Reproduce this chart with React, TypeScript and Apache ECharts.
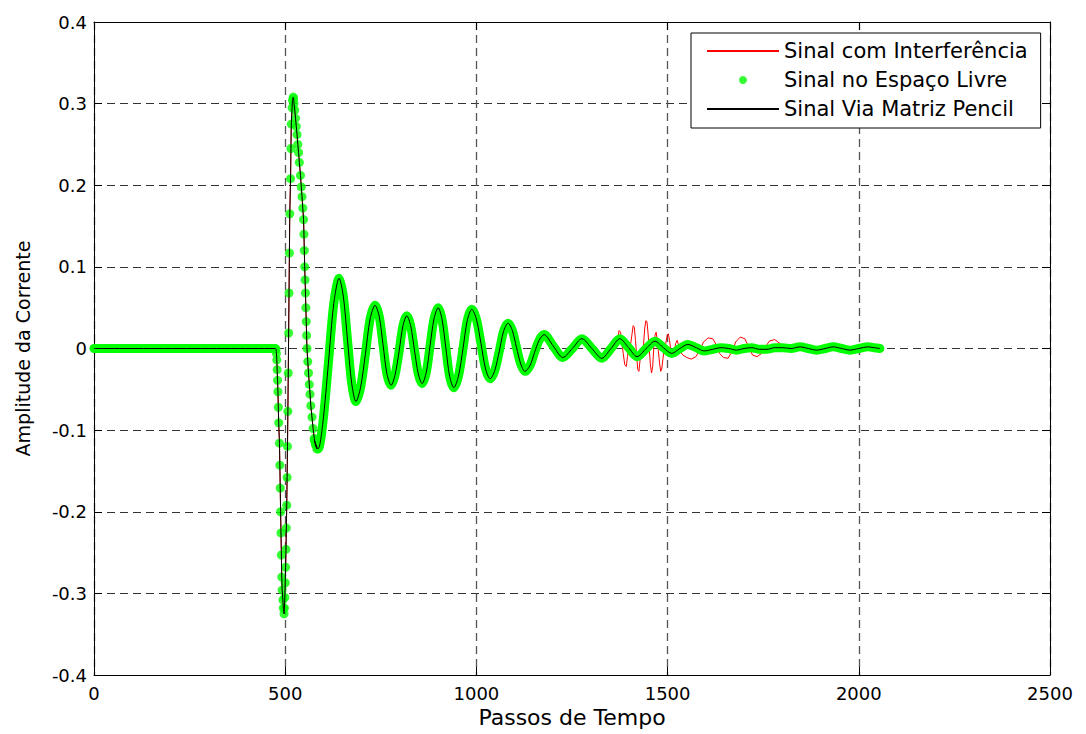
import React, { useEffect, useRef } from "react";
import * as echarts from "echarts";

// Axis ticks and their labels
const xMin = 0;
const xMax = 2500;
const xStep = 500;
const xTickLabels = ["0", "500", "1000", "1500", "2000", "2500"];
const yMin = -0.4;
const yMax = 0.4;
const yStep = 0.1;
const yTickLabels = ["-0.4", "-0.3", "-0.2", "-0.1", "0", "0.1", "0.2", "0.3", "0.4"];

const legendNames = ["Sinal com Interferência", "Sinal no Espaço Livre", "Sinal Via Matriz Pencil"];

// Quiet interval before the pulse arrives
const tInicio = [0, 474];
const vInicio = [0, 0];

// Main pulse (individual samples)
const tPulso = [
  476, 477, 478, 479, 480, 481, 482, 483, 485, 486, 487, 488, 489, 490, 491, 492, 494, 495, 497,
  498, 499, 500, 501, 502, 503, 504, 505, 506, 507, 508, 509, 510, 511, 512, 514, 515, 516, 518, 519, 521,
  522, 523, 525, 527, 529, 531, 533, 535, 537, 540, 542, 544, 546, 548, 549, 550, 551, 552, 553, 554,
  555, 556, 557, 559, 561, 563, 565, 567, 570, 573, 576, 579, 583,
];
const vPulso = [
  -0.001, -0.006, -0.014, -0.026, -0.039, -0.053, -0.072, -0.091, -0.116, -0.143, -0.171, -0.2, -0.226,
  -0.253, -0.28, -0.296, -0.308, -0.318, -0.325,
  -0.318, -0.305, -0.287, -0.268, -0.246, -0.22, -0.192, -0.158, -0.12, -0.077, -0.03, 0.019, 0.068,
  0.117, 0.165, 0.208, 0.245, 0.275, 0.295, 0.304, 0.308,
  0.306, 0.3, 0.292, 0.282, 0.272, 0.262, 0.25, 0.24, 0.228, 0.212, 0.198, 0.186, 0.172, 0.158, 0.14,
  0.12, 0.1, 0.084, 0.068, 0.05, 0.033, 0.016, 0.0, -0.016, -0.03, -0.044, -0.056, -0.07, -0.084,
  -0.098, -0.11, -0.118, -0.123,
];

// Damped ringing after the pulse
const tOsc = [
  576, 586, 598, 613, 627, 641, 652, 663, 674, 685, 697, 710, 722, 735, 746, 756, 766, 777, 787, 798,
  808, 818, 828, 838, 848, 858, 869, 879, 889, 900, 910, 920, 930, 941, 953, 965, 976, 988, 1000, 1012,
  1024, 1036, 1048, 1060, 1071, 1083, 1094, 1105, 1116, 1127, 1140, 1152, 1164, 1177, 1201, 1226, 1251,
  1276, 1302, 1328, 1352, 1375, 1398, 1420, 1444, 1467, 1489, 1511, 1532, 1553, 1575, 1596, 1618, 1640,
  1660, 1680, 1700, 1720, 1740, 1760, 1780, 1800, 1823, 1846, 1868, 1890, 1912, 1933, 1955, 1977, 2000,
  2024, 2040, 2055,
];
const vOsc = [
  -0.112, -0.123, -0.093, -0.018, 0.055, 0.086, 0.064, 0.01, -0.043, -0.065, -0.048, -0.006, 0.036,
  0.053, 0.039, 0.004, -0.031, -0.045, -0.033, -0.003, 0.028, 0.04, 0.028, -0.002, -0.031, -0.043,
  -0.029, 0.004, 0.036, 0.05, 0.036, 0.001, -0.034, -0.048, -0.034, 0.0, 0.034, 0.048, 0.036, 0.006,
  -0.025, -0.037, -0.027, -0.003, 0.021, 0.031, 0.022, 0.001, -0.019, -0.028, -0.021, -0.005, 0.01,
  0.017, 0.003, -0.011, 0.0, 0.012, 0.0, -0.012, 0.0, 0.012, 0.001, -0.01, 0.0, 0.009, 0.001, -0.006,
  0.0, 0.005, 0.001, -0.003, -0.001, 0.001, 0.0, -0.002, 0.0, 0.001, -0.001, -0.001, 0.001, 0.001, 0.0,
  0.002, 0.0, -0.002, 0.0, 0.002, 0.0, -0.002, 0.0, 0.002, 0.001, 0.0,
];

// Interfering signal over the window where it departs from the free-space trace
const tInterf = [
  1365, 1370, 1373, 1377, 1380, 1384, 1388, 1392, 1395, 1399, 1403, 1407, 1410, 1413, 1416, 1419, 1422,
  1425, 1428, 1431, 1434, 1437, 1440, 1443, 1446, 1449, 1452, 1455, 1458, 1461, 1464, 1467, 1470, 1473,
  1476, 1479, 1482, 1485, 1488, 1491, 1495, 1499, 1502, 1505, 1509, 1513, 1517, 1521, 1525, 1529, 1533,
  1540, 1550, 1562, 1574, 1584, 1594, 1606, 1618, 1628, 1636, 1646, 1658, 1668, 1678, 1690, 1702, 1712,
  1722, 1734, 1746, 1756, 1766, 1780, 1794, 1806, 1818, 1830,
];
const vInterf = [
  0.01, 0.012, 0.022, 0.02, 0.008, -0.006, -0.02, -0.022, -0.01, 0.002, 0.004, 0.018, 0.028, 0.026,
  0.01, -0.008, -0.026, -0.028, -0.014, 0.0, -0.006, 0.004, 0.024, 0.034, 0.033, 0.018, 0.0, -0.02,
  -0.03, -0.022, 0.002, 0.016, 0.02, 0.01, -0.004, -0.018, -0.028, -0.024, -0.012, 0.0, 0.006, 0.016,
  0.018, 0.01, -0.004, -0.01, -0.006, 0.006, 0.01, 0.004, -0.004, -0.008, -0.011, -0.013, -0.01,
  -0.002, 0.008, 0.013, 0.012, 0.004, -0.006, -0.011, -0.012, -0.004, 0.008, 0.014, 0.012, 0.002,
  -0.008, -0.01, -0.006, 0.002, 0.009, 0.011, 0.006, -0.002, -0.004, -0.001,
];

const pairs = (t: number[], v: number[]) => t.map((x, i) => [x, v[i]]);

const FONT = "DejaVu Sans";
const GREEN = "#00ff00";

function buildOption() {
  const livre = [...pairs(tInicio, vInicio), ...pairs(tPulso, vPulso), ...pairs(tOsc, vOsc)];
  const iStart = tInterf[0];
  const iEnd = tInterf[tInterf.length - 1];
  const comInterf = [
    ...livre.filter((p) => p[0] < iStart || p[0] > iEnd),
    ...pairs(tInterf, vInterf),
  ].sort((a, b) => a[0] - b[0]);

  const tickLabel = (labels: string[], min: number, step: number) => (v: number) =>
    labels[Math.round((v - min) / step)] ?? "";

  const commonX = {
    type: "value",
    min: xMin,
    max: xMax,
    interval: xStep,
    axisLine: { show: true, onZero: false, lineStyle: { color: "#000", width: 1 } },
    axisTick: { show: true, inside: true, length: 8, lineStyle: { color: "#000" } },
  };
  const commonY = {
    type: "value",
    min: yMin,
    max: yMax,
    interval: yStep,
    axisLine: { show: true, onZero: false, lineStyle: { color: "#000", width: 1 } },
    axisTick: { show: true, inside: true, length: 8, lineStyle: { color: "#000" } },
  };

  return {
    animation: false,
    backgroundColor: "#ffffff",
    textStyle: { fontFamily: FONT },
    grid: { left: 94, right: 36, top: 22, bottom: 59 },
    legend: {
      data: [
        { name: legendNames[0], itemStyle: { opacity: 0 } },
        { name: legendNames[1], icon: "circle" },
        { name: legendNames[2], itemStyle: { opacity: 0 } },
      ],
      orient: "vertical",
      left: 691,
      top: 33,
      backgroundColor: "#ffffff",
      borderColor: "#000000",
      borderWidth: 1,
      borderRadius: 0,
      padding: [6, 13, 7, 15],
      itemWidth: 72,
      itemHeight: 8,
      itemGap: 5,
      selectedMode: false,
      textStyle: { fontFamily: FONT, fontSize: 21, color: "#000", lineHeight: 24 },
    },
    xAxis: [
      {
        ...commonX,
        position: "bottom",
        name: "Passos de Tempo",
        nameLocation: "middle",
        nameGap: 30,
        nameTextStyle: { fontFamily: FONT, fontSize: 22, color: "#000" },
        axisLabel: {
          show: true,
          color: "#000",
          fontSize: 18,
          fontFamily: FONT,
          margin: 9,
          formatter: tickLabel(xTickLabels, xMin, xStep),
        },
        splitLine: { show: true, lineStyle: { color: "#555", width: 1.3, type: [8, 5] } },
      },
      {
        ...commonX,
        position: "top",
        axisLabel: { show: false },
        splitLine: { show: false },
      },
    ],
    yAxis: [
      {
        ...commonY,
        position: "left",
        name: "Amplitude da Corrente",
        nameLocation: "middle",
        nameGap: 62,
        nameTextStyle: { fontFamily: FONT, fontSize: 19, color: "#000" },
        axisLabel: {
          show: true,
          color: "#000",
          fontSize: 18,
          fontFamily: FONT,
          margin: 7,
          formatter: tickLabel(yTickLabels, yMin, yStep),
        },
        splitLine: { show: true, lineStyle: { color: "#333", width: 1, type: [8, 5] } },
      },
      {
        ...commonY,
        position: "right",
        axisLabel: { show: false },
        splitLine: { show: false },
      },
    ],
    series: [
      {
        name: legendNames[0],
        type: "line",
        data: comInterf,
        symbol: "none",
        color: "#ff0000",
        lineStyle: { color: "#ff0000", width: 1 },
        emphasis: { disabled: true },
        silent: true,
        z: 2,
      },
      {
        name: legendNames[1],
        type: "scatter",
        data: pairs(tPulso, vPulso),
        symbol: "circle",
        symbolSize: 9,
        color: GREEN,
        itemStyle: { color: GREEN },
        emphasis: { disabled: true },
        silent: true,
        z: 3,
      },
      {
        name: legendNames[1],
        type: "line",
        data: pairs(tInicio, vInicio),
        symbol: "none",
        clip: false,
        color: GREEN,
        lineStyle: { color: GREEN, width: 9, cap: "round", join: "round" },
        emphasis: { disabled: true },
        silent: true,
        z: 3,
      },
      {
        name: legendNames[1],
        type: "line",
        data: pairs(tOsc, vOsc),
        symbol: "none",
        smooth: 0.3,
        color: GREEN,
        lineStyle: { color: GREEN, width: 9, cap: "round", join: "round" },
        emphasis: { disabled: true },
        silent: true,
        z: 3,
      },
      {
        name: legendNames[2],
        type: "line",
        data: livre,
        symbol: "none",
        smooth: 0.3,
        color: "#222",
        lineStyle: { color: "#000", width: 1 },
        emphasis: { disabled: true },
        silent: true,
        z: 4,
      },
    ],
  };
}

export default function App() {
  const ref = useRef<HTMLDivElement>(null);

  useEffect(() => {
    if (!ref.current) return;
    const chart = echarts.init(ref.current, null, { renderer: "svg" });
    chart.setOption(buildOption() as any);
    return () => chart.dispose();
  }, []);

  return (
    <div
      ref={ref}
      style={{ position: "fixed", left: 0, top: 0, width: 1086, height: 734, background: "#fff" }}
    />
  );
}
